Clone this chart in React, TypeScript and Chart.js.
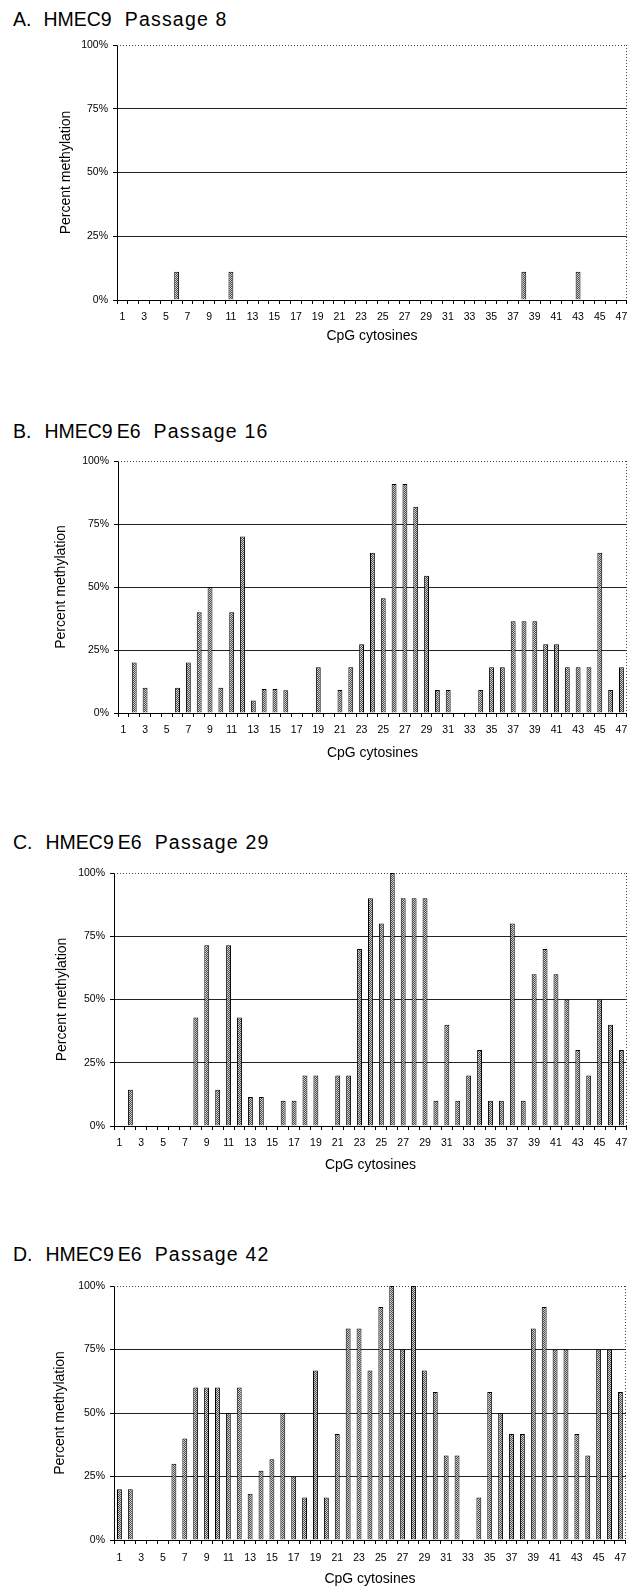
import React, { useEffect, useRef } from "react";
import { Chart, registerables } from "chart.js";

Chart.register(...registerables);

const cpgSites = [
  "1", "2", "3", "4", "5", "6", "7", "8", "9", "10",
  "11", "12", "13", "14", "15", "16", "17", "18", "19", "20",
  "21", "22", "23", "24", "25", "26", "27", "28", "29", "30",
  "31", "32", "33", "34", "35", "36", "37", "38", "39", "40",
  "41", "42", "43", "44", "45", "46", "47",
];

const yTicks = [0, 25, 50, 75, 100];

const hmecPassage8 = [
  0, 0, 0, 0, 0, 11.1, 0, 0, 0, 0,
  11.1, 0, 0, 0, 0, 0, 0, 0, 0, 0,
  0, 0, 0, 0, 0, 0, 0, 0, 0, 0,
  0, 0, 0, 0, 0, 0, 0, 11.1, 0, 0,
  0, 0, 11.1, 0, 0, 0, 0,
];

const e6Passage16 = [
  0, 20, 10, 0, 0, 10, 20, 40, 50, 10,
  40, 70, 5, 9.5, 9.5, 9, 0, 0, 18.2, 0,
  9.1, 18.2, 27.3, 63.6, 45.5, 90.9, 90.9, 81.8, 54.5, 9.1,
  9.1, 0, 0, 9.1, 18.2, 18.2, 36.4, 36.4, 36.4, 27.3,
  27.3, 18.2, 18.2, 18.2, 63.6, 9.1, 18.2,
];

const e6Passage29 = [
  0, 14.3, 0, 0, 0, 0, 0, 42.9, 71.4, 14.3,
  71.4, 42.9, 11.5, 11.5, 0, 10, 10, 20, 20, 0,
  20, 20, 70, 90, 80, 100, 90, 90, 90, 10,
  40, 10, 20, 30, 10, 10, 80, 10, 60, 70,
  60, 50, 30, 20, 50, 40, 30,
];

const e6Passage42 = [
  20, 20, 0, 0, 0, 30, 40, 60, 60, 60,
  50, 60, 18.2, 27.3, 31.8, 50, 25, 16.7, 66.7, 16.7,
  41.7, 83.3, 83.3, 66.7, 91.7, 100, 75, 100, 66.7, 58.3,
  33.3, 33.3, 0, 16.7, 58.3, 50, 41.7, 41.7, 83.3, 91.7,
  75, 75, 41.7, 33.3, 75, 75, 58.3,
];

const FONT = "'Liberation Sans', Arial, Helvetica, sans-serif";

type PanelCfg = {
  titleParts: string[];
  titleGaps: number[];
  baseline: number;
  plotTop: number;
  plotBottom: number;
  plotLeft: number;
  plotRight: number;
  xLabelY: number;
  xTitleY: number;
  yTitleX: number;
  values: number[];
};

const panels: PanelCfg[] = [
  {
    titleParts: ["A.", "HMEC9", "Passage 8"],
    titleGaps: [12, 13],
    baseline: 27,
    plotTop: 45,
    plotBottom: 300,
    plotLeft: 117,
    plotRight: 633,
    xLabelY: 317,
    xTitleY: 336,
    yTitleX: 66,
    values: hmecPassage8,
  },
  {
    titleParts: ["B.", "HMEC9", "E6", "Passage 16"],
    titleGaps: [13, 4, 13],
    baseline: 439,
    plotTop: 461,
    plotBottom: 713,
    plotLeft: 118,
    plotRight: 632,
    xLabelY: 730,
    xTitleY: 753,
    yTitleX: 61,
    values: e6Passage16,
  },
  {
    titleParts: ["C.", "HMEC9", "E6", "Passage 29"],
    titleGaps: [13, 4, 13],
    baseline: 850,
    plotTop: 873,
    plotBottom: 1126,
    plotLeft: 114,
    plotRight: 632,
    xLabelY: 1143,
    xTitleY: 1165,
    yTitleX: 62,
    values: e6Passage29,
  },
  {
    titleParts: ["D.", "HMEC9", "E6", "Passage 42"],
    titleGaps: [13, 4, 13],
    baseline: 1262,
    plotTop: 1286,
    plotBottom: 1540,
    plotLeft: 114,
    plotRight: 630,
    xLabelY: 1558,
    xTitleY: 1579,
    yTitleX: 60,
    values: e6Passage42,
  },
];

const TITLE_SIZE = 19.5;
const TICK_SIZE = 10.5;
const AXIS_TITLE_SIZE = 14;
const TICK_LEN = 4;

const framePlugin = {
  id: "dottedFrame",
  beforeDatasetsDraw(chart: any) {
    const { ctx, chartArea } = chart;
    const { left, right, top, bottom } = chartArea;
    ctx.save();
    ctx.strokeStyle = "#444";
    ctx.lineWidth = 1;
    ctx.setLineDash([1, 2]);
    ctx.beginPath();
    ctx.moveTo(left, Math.round(top) + 0.5);
    ctx.lineTo(right, Math.round(top) + 0.5);
    ctx.moveTo(Math.round(right) - 0.5, top);
    ctx.lineTo(Math.round(right) - 0.5, bottom);
    ctx.stroke();
    ctx.restore();
  },
};

function Panel({ cfg }: { cfg: PanelCfg }) {
  const ref = useRef<HTMLCanvasElement | null>(null);
  const canvasTop = cfg.plotTop - 12;
  const axisLH = AXIS_TITLE_SIZE * 1.2;
  const tickLH = TICK_SIZE * 1.2;
  const canvasBottom = Math.round(cfg.xTitleY + axisLH / 2 + 2);
  const height = canvasBottom - canvasTop;

  useEffect(() => {
    const canvas = ref.current;
    if (!canvas) return;
    const ctx2d = canvas.getContext("2d")!;
    const tile = document.createElement("canvas");
    tile.width = 2;
    tile.height = 2;
    const t = tile.getContext("2d")!;
    t.fillStyle = "#cfcfcf";
    t.fillRect(0, 0, 2, 2);
    t.fillStyle = "#4a4a4a";
    t.fillRect(0, 0, 1, 1);
    t.fillRect(1, 1, 1, 1);
    const pattern = ctx2d.createPattern(tile, "repeat");

    const xScaleHeight = canvasBottom - cfg.plotBottom;
    const chart = new Chart(canvas, {
      type: "bar",
      data: {
        labels: cpgSites,
        datasets: [
          {
            data: cfg.values,
            backgroundColor: pattern as any,
            borderColor: "#000",
            borderWidth: 1,
            barPercentage: 0.45,
            categoryPercentage: 1,
          },
        ],
      },
      options: {
        animation: false,
        responsive: false,
        devicePixelRatio: 1,
        events: [],
        layout: {
          padding: { top: 12, left: 0, right: 634 - cfg.plotRight, bottom: 0 },
        },
        plugins: {
          legend: { display: false },
          tooltip: { enabled: false },
          title: { display: false },
        },
        scales: {
          x: {
            type: "category",
            offset: true,
            grid: {
              offset: true,
              drawOnChartArea: false,
              drawTicks: true,
              tickLength: TICK_LEN,
              tickColor: "#000",
              tickWidth: 1,
            },
            border: { display: true, color: "#000", width: 1 },
            ticks: {
              autoSkip: false,
              maxRotation: 0,
              minRotation: 0,
              color: "#000",
              font: { family: FONT, size: TICK_SIZE },
              padding: cfg.xLabelY - cfg.plotBottom - TICK_LEN - tickLH / 2,
              callback: (_v: any, i: number) => (i % 2 === 0 ? cpgSites[i] : ""),
            },
            title: {
              display: true,
              text: "CpG cytosines",
              color: "#000",
              font: { family: FONT, size: AXIS_TITLE_SIZE },
              padding: { top: 0, bottom: canvasBottom - cfg.xTitleY - axisLH / 2 },
            },
            afterFit: (s: any) => {
              s.height = xScaleHeight;
            },
          },
          y: {
            type: "linear",
            min: 0,
            max: 100,
            afterBuildTicks: (s: any) => {
              s.ticks = yTicks.map((v) => ({ value: v }));
            },
            grid: {
              color: (c: any) =>
                c.tick && c.tick.value > 0 && c.tick.value < 100 ? "#222" : "rgba(0,0,0,0)",
              lineWidth: 1,
              drawTicks: true,
              tickLength: TICK_LEN,
              tickColor: "#000",
              tickWidth: 1,
            },
            border: { display: true, color: "#000", width: 1 },
            ticks: {
              color: "#000",
              font: { family: FONT, size: TICK_SIZE },
              padding: 5,
              callback: (v: any) => `${v}%`,
            },
            title: {
              display: true,
              text: "Percent methylation",
              color: "#000",
              font: { family: FONT, size: AXIS_TITLE_SIZE },
              padding: { top: cfg.yTitleX - axisLH / 2, bottom: 0 },
            },
            afterFit: (s: any) => {
              s.width = cfg.plotLeft;
            },
          },
        },
      },
      plugins: [framePlugin],
    } as any);
    return () => chart.destroy();
  }, []);

  const titleTop = cfg.baseline - TITLE_SIZE * 0.847;

  return (
    <>
      <div
        style={{
          position: "absolute",
          left: 13,
          top: titleTop,
          fontFamily: FONT,
          fontSize: TITLE_SIZE,
          lineHeight: `${TITLE_SIZE}px`,
          color: "#000",
          whiteSpace: "nowrap",
        }}
      >
        {cfg.titleParts.map((p, i) => (
          <span
            key={i}
            style={{
              display: "inline-block",
              marginRight: i < cfg.titleGaps.length ? cfg.titleGaps[i] : 0,
              letterSpacing: p.startsWith("Passage") ? 1.2 : 0,
            }}
          >
            {p}
          </span>
        ))}
      </div>
      <canvas
        ref={ref}
        width={634}
        height={height}
        style={{ position: "absolute", left: 0, top: canvasTop, width: 634, height }}
      />
    </>
  );
}

export default function App() {
  return (
    <div
      style={{
        position: "absolute",
        left: 0,
        top: 0,
        width: 634,
        height: 1588,
        background: "#fff",
        overflow: "hidden",
      }}
    >
      {panels.map((p, i) => (
        <Panel key={i} cfg={p} />
      ))}
    </div>
  );
}
